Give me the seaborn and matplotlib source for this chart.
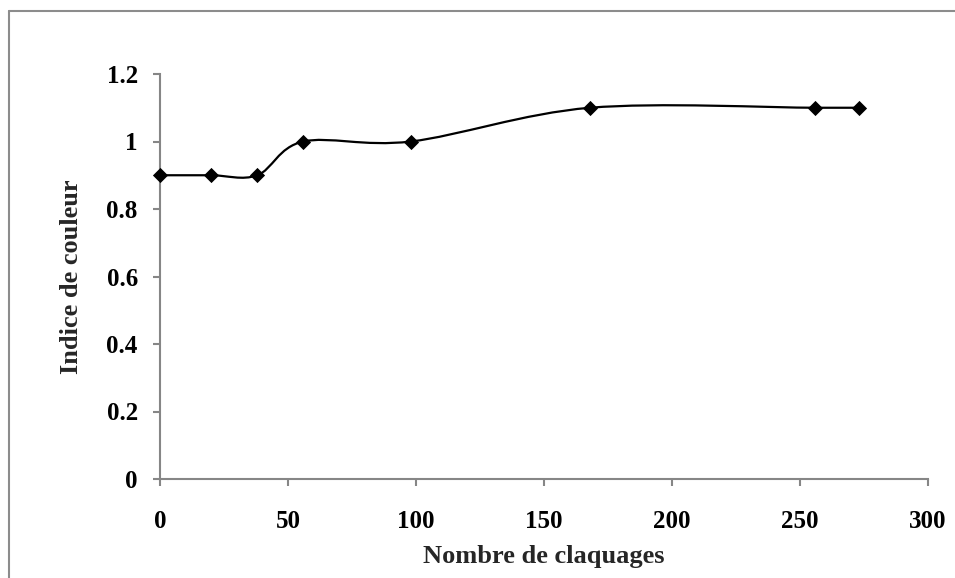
import matplotlib
matplotlib.use("Agg")
import matplotlib.pyplot as plt
import numpy as np
import pandas as pd
import seaborn as sns
from matplotlib.lines import Line2D
from matplotlib.patches import PathPatch
from matplotlib.path import Path

# data
claquages = [0, 20, 38, 56, 98, 168, 256, 273]
indice = [0.9, 0.9, 0.9, 1.0, 1.0, 1.1, 1.1, 1.1]

x_ticks = [0, 50, 100, 150, 200, 250, 300]
y_ticks = [0, 0.2, 0.4, 0.6, 0.8, 1, 1.2]
y_tick_labels = ["0", "0.2", "0.4", "0.6", "0.8", "1", "1.2"]

x_label = "Nombre de claquages"
y_label = "Indice de couleur"


def smooth_path(xs, ys):
    """
    builds a bezier path through the points, like the excel 'smoothed line'
    """
    pts = np.column_stack([xs, ys]).astype(float)
    n = len(pts)
    verts = [pts[0]]
    codes = [Path.MOVETO]
    for i in range(n - 1):
        p0 = pts[max(i - 1, 0)]
        p1 = pts[i]
        p2 = pts[i + 1]
        p3 = pts[min(i + 2, n - 1)]
        c1 = p1 + (p2 - p0) / 6.0
        c2 = p2 - (p3 - p1) / 6.0
        verts += [c1, c2, p2]
        codes += [Path.CURVE4] * 3
    return Path(verts, codes)


sns.set_style("white")
plt.rcParams["font.family"] = ["Liberation Serif", "DejaVu Serif"]

df = pd.DataFrame({"x": claquages, "y": indice})

fig = plt.figure(figsize=(9.55, 5.78), dpi=100)
ax = fig.add_axes([160 / 955, 1 - 479 / 578, 768 / 955, 405 / 578])

patch = PathPatch(smooth_path(df["x"], df["y"]), facecolor="none",
                  edgecolor="black", linewidth=1.6, zorder=3)
ax.add_patch(patch)
sns.scatterplot(data=df, x="x", y="y", marker="D", color="black",
                s=60, linewidth=0, ax=ax, zorder=4, clip_on=False)

ax.set_xlim(0, 300)
ax.set_ylim(0, 1.2)
ax.set_xticks(x_ticks)
ax.set_yticks(y_ticks)
ax.set_yticklabels(y_tick_labels)

spine_color = "#868686"
for side in ["top", "right"]:
    ax.spines[side].set_visible(False)
for side in ["left", "bottom"]:
    ax.spines[side].set_color(spine_color)
    ax.spines[side].set_linewidth(1.5)

ax.tick_params(axis="both", direction="out", length=5, width=1.5,
               color=spine_color, labelsize=18, labelcolor="black")
ax.tick_params(axis="x", pad=17)
ax.tick_params(axis="y", pad=11)
ax.tick_params(left=True, bottom=True)
for lbl in ax.get_xticklabels() + ax.get_yticklabels():
    lbl.set_fontweight("bold")

ax.set_xlabel(x_label, fontsize=19, fontweight="bold", labelpad=9)
ax.set_ylabel(y_label, fontsize=19, fontweight="bold", labelpad=17)

# outer chart border (only top and left edges are visible in the crop)
fig.add_artist(Line2D([9 / 955, 1.0], [1 - 11 / 578, 1 - 11 / 578],
                      transform=fig.transFigure, color="#8c8c8c", linewidth=1.5))
fig.add_artist(Line2D([9 / 955, 9 / 955], [0.0, 1 - 11 / 578],
                      transform=fig.transFigure, color="#8c8c8c", linewidth=1.5))

fig.savefig("out.png", dpi=100)
